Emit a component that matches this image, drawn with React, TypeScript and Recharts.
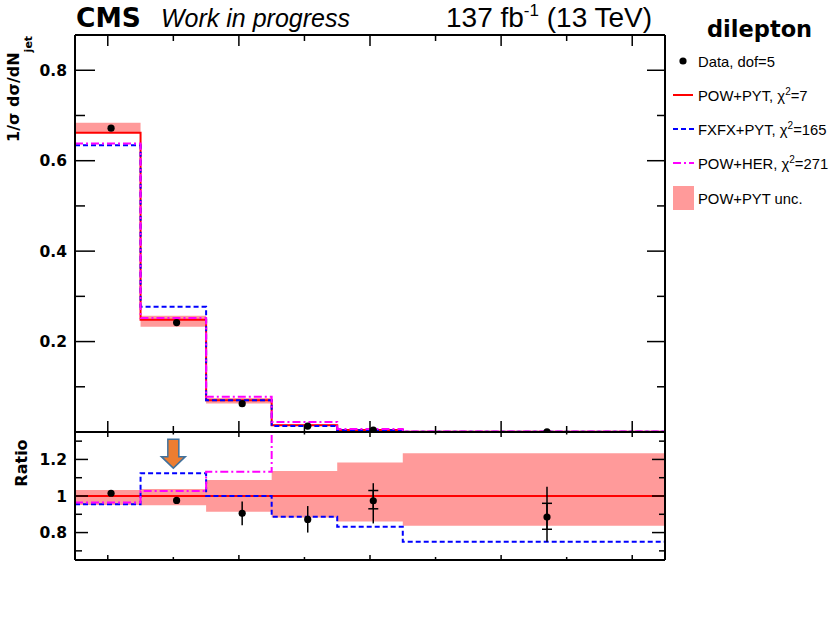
import React from 'react';
import {
  ComposedChart,
  Line,
  Area,
  Scatter,
  XAxis,
  YAxis,
  ErrorBar,
  ReferenceDot,
} from 'recharts';

// Jet multiplicity binning (last bin is 5+ jets)
const binEdges = [-0.5, 0.5, 1.5, 2.5, 3.5, 4.5, 8.5];
const nJetTicks = [0, 1, 2, 3, 4, 5, 6, 7, 8];
const xsecTicks = [0.1, 0.2, 0.3, 0.4, 0.5, 0.6, 0.7, 0.8];
const ratioTicks = [0.7, 0.8, 0.9, 1.0, 1.1, 1.2, 1.3];

// Normalised differential cross section per bin
const powPyt = [0.662, 0.248, 0.07, 0.015, 0.0045, 0.0006];
const powPytUncLo = [0.662, 0.233, 0.063, 0.013, 0.0038, 0.0005];
const powPytUncHi = [0.684, 0.257, 0.075, 0.017, 0.0053, 0.0007];
const fxfxPyt = [0.634, 0.277, 0.07, 0.0133, 0.0037, 0.00045];
const powHer = [0.638, 0.252, 0.078, 0.022, 0.0065, 0.0009];

// Measured points
const dataX = [0.05, 1.05, 2.05, 3.05, 4.05, 6.7];
const dataY = [0.672, 0.242, 0.0627, 0.0131, 0.0044, 0.00053];

// Ratios to POW+PYT
const ratioPowPyt = [1, 1, 1, 1, 1, 1];
const ratioUncLo = [0.951, 0.95, 0.914, 0.882, 0.86, 0.837];
const ratioUncHi = [1.033, 1.038, 1.088, 1.137, 1.183, 1.234];
const ratioFxfx = [0.955, 1.124, 1.0, 0.887, 0.832, 0.75];
const ratioPowHer = [0.965, 1.027, 1.133, 1.47, 1.44, 1.5];
const ratioData = [1.015, 0.976, 0.905, 0.872, 0.974, 0.885];
const ratioTotLo = [1.005, 0.966, 0.84, 0.8, 0.85, 0.75];
const ratioTotHi = [1.025, 0.986, 0.97, 0.945, 1.07, 1.05];
const ratioStatLo: (number | null)[] = [null, null, null, null, 0.93, 0.818];
const ratioStatHi: (number | null)[] = [null, null, null, null, 1.03, 0.96];

const legendItems = [
  { kind: 'dot', label: 'Data, dof=5', chi2: '' },
  { kind: 'red', label: 'POW+PYT, χ', chi2: '7' },
  { kind: 'blue', label: 'FXFX+PYT, χ', chi2: '165' },
  { kind: 'magenta', label: 'POW+HER, χ', chi2: '271' },
  { kind: 'band', label: 'POW+PYT unc.', chi2: '' },
];

const BOLD = '"DejaVu Sans", sans-serif';
const REG = '"Liberation Sans", Arial, sans-serif';
const RED = '#ff0000';
const BLUE = '#0000ff';
const MAGENTA = '#ff00ff';
const BAND = '#ff9a9a';
const BLUE_DASH = '5 3';
const MAGENTA_DASH = '8 3 2 3';

// Step-histogram rows: one row per bin edge, last edge repeats the last bin
function histRows(
  series: Record<string, number[]>,
  lo: number[],
  hi: number[]
) {
  return binEdges.map((x, i) => {
    const b = Math.min(i, binEdges.length - 2);
    const row: Record<string, any> = { x, band: [lo[b], hi[b]] };
    Object.keys(series).forEach((k) => {
      row[k] = series[k][b];
    });
    return row;
  });
}

const mainRows = histRows(
  { powPyt, fxfxPyt, powHer },
  powPytUncLo,
  powPytUncHi
);
const ratioRows = histRows(
  { powPyt: ratioPowPyt, fxfxPyt: ratioFxfx, powHer: ratioPowHer },
  ratioUncLo,
  ratioUncHi
);

const mainPoints = dataX.map((x, i) => ({ x, y: dataY[i] }));
const ratioPoints = dataX.map((x, i) => {
  const y = ratioData[i];
  const sLo = ratioStatLo[i];
  const sHi = ratioStatHi[i];
  return {
    x,
    y,
    tot: [y - ratioTotLo[i], ratioTotHi[i] - y],
    stat: sLo == null || sHi == null ? null : [y - sLo, sHi - y],
  };
});

const isMajor = (v: number, step: number) =>
  Math.abs(Math.round(v / step) * step - v) < 1e-6;

type Side = 'bottom' | 'top' | 'left' | 'right';

// ROOT-style inward ticks; optional labels on major ticks
function inwardTick(
  side: Side,
  majorLen: number,
  minorLen: number,
  majorStep: number,
  withLabel = false
) {
  return (props: any) => {
    const { x, y, payload } = props;
    const v = payload.value as number;
    const major = isMajor(v, majorStep);
    const len = major ? majorLen : minorLen;
    let x2 = x;
    let y2 = y;
    if (side === 'bottom') y2 = y - len;
    if (side === 'top') y2 = y + len;
    if (side === 'left') x2 = x + len;
    if (side === 'right') x2 = x - len;
    const label = withLabel && major ? String(Math.round(v * 10) / 10) : null;
    return (
      <g>
        <line x1={x} y1={y} x2={x2} y2={y2} stroke="#000" strokeWidth={1.5} />
        {label !== null && (
          <text
            x={x - 8}
            y={y + 5.5}
            textAnchor="end"
            fontFamily={BOLD}
            fontWeight="bold"
            fontSize={15.5}
            fill="#000"
          >
            {label}
          </text>
        )}
      </g>
    );
  };
}

const axisLine = { stroke: '#000', strokeWidth: 2 };

function DownArrow(props: any) {
  const { cx, cy } = props;
  const top = cy - 2;
  const neck = cy + 15.5;
  const tip = cy + 27;
  const pts = [
    [cx - 5.5, top],
    [cx + 5.5, top],
    [cx + 5.5, neck],
    [cx + 12, neck],
    [cx, tip],
    [cx - 12, neck],
    [cx - 5.5, neck],
  ]
    .map((p) => p.join(','))
    .join(' ');
  return <polygon points={pts} fill="#ed7d31" stroke="#41719c" strokeWidth={1.5} />;
}

function Dot(props: any) {
  const { cx, cy } = props;
  if (cx == null || cy == null) return null;
  return <circle cx={cx} cy={cy} r={3.6} fill="#000" />;
}

function Legend() {
  const rowY = [61, 95, 129, 163, 198];
  return (
    <g>
      <text x={707} y={37} fontFamily={BOLD} fontWeight="bold" fontSize={22.5}>
        dilepton
      </text>
      {legendItems.map((it, i) => {
        const cy = rowY[i];
        let sym: React.ReactNode = null;
        if (it.kind === 'dot') sym = <circle cx={683} cy={cy} r={3.6} fill="#000" />;
        if (it.kind === 'red')
          sym = <line x1={673} x2={693} y1={cy} y2={cy} stroke={RED} strokeWidth={2} />;
        if (it.kind === 'blue')
          sym = (
            <line x1={673} x2={694} y1={cy} y2={cy} stroke={BLUE} strokeWidth={2} strokeDasharray={BLUE_DASH} />
          );
        if (it.kind === 'magenta')
          sym = (
            <line x1={673} x2={694} y1={cy} y2={cy} stroke={MAGENTA} strokeWidth={2} strokeDasharray={MAGENTA_DASH} />
          );
        if (it.kind === 'band')
          sym = <rect x={673} y={cy - 12} width={21} height={24} fill={BAND} />;
        return (
          <g key={i}>
            {sym}
            <text x={698} y={cy + 5.5} fontFamily={REG} fontSize={14.8} fill="#000">
              {it.label}
              {it.chi2 !== '' && (
                <>
                  <tspan fontSize={10} dy={-6}>
                    2
                  </tspan>
                  <tspan dy={6}>={it.chi2}</tspan>
                </>
              )}
            </text>
          </g>
        );
      })}
    </g>
  );
}

export default function App() {
  return (
    <div style={{ position: 'absolute', left: 0, top: 0, width: 830, height: 627, background: '#fff' }}>
      {/* upper panel: normalised cross section */}
      <div style={{ position: 'absolute', left: 0, top: 0 }}>
        <ComposedChart
          width={830}
          height={440}
          data={mainRows}
          margin={{ top: 34, right: 155, bottom: 7, left: 35 }}
        >
          <XAxis
            xAxisId={0}
            dataKey="x"
            type="number"
            domain={[-0.5, 8.5]}
            allowDataOverflow
            ticks={nJetTicks}
            interval={0}
            height={1}
            tickSize={0}
            tickMargin={0}
            tickLine={false}
            axisLine={axisLine}
            tick={inwardTick('bottom', 11, 6, 2)}
          />
          <XAxis
            xAxisId="top"
            orientation="top"
            dataKey="x"
            type="number"
            domain={[-0.5, 8.5]}
            allowDataOverflow
            ticks={nJetTicks}
            interval={0}
            height={1}
            tickSize={0}
            tickMargin={0}
            tickLine={false}
            axisLine={axisLine}
            tick={inwardTick('top', 11, 6, 2)}
          />
          <YAxis
            yAxisId={0}
            type="number"
            domain={[0, 0.878]}
            allowDataOverflow
            ticks={xsecTicks}
            interval={0}
            width={40}
            tickSize={0}
            tickMargin={0}
            tickLine={false}
            axisLine={axisLine}
            tick={inwardTick('left', 20, 10, 0.2, true)}
          />
          <YAxis
            yAxisId="right"
            orientation="right"
            type="number"
            domain={[0, 0.878]}
            allowDataOverflow
            ticks={xsecTicks}
            interval={0}
            width={10}
            tickSize={0}
            tickMargin={0}
            tickLine={false}
            axisLine={axisLine}
            tick={inwardTick('right', 18, 8, 0.2)}
          />
          <Area
            dataKey="band"
            type="stepAfter"
            stroke="none"
            fill={BAND}
            fillOpacity={1}
            isAnimationActive={false}
          />
          <Line dataKey="powPyt" type="stepAfter" stroke={RED} strokeWidth={2} dot={false} isAnimationActive={false} />
          <Line
            dataKey="fxfxPyt"
            type="stepAfter"
            stroke={BLUE}
            strokeWidth={2}
            strokeDasharray={BLUE_DASH}
            dot={false}
            isAnimationActive={false}
          />
          <Line
            dataKey="powHer"
            type="stepAfter"
            stroke={MAGENTA}
            strokeWidth={2}
            strokeDasharray={MAGENTA_DASH}
            dot={false}
            isAnimationActive={false}
          />
          <Scatter data={mainPoints} dataKey="y" shape={<Dot />} isAnimationActive={false} />
        </ComposedChart>
      </div>

      {/* lower panel: ratio to POW+PYT */}
      <div style={{ position: 'absolute', left: 0, top: 420 }}>
        <ComposedChart
          width={830}
          height={160}
          data={ratioRows}
          margin={{ top: 11, right: 155, bottom: 19, left: 35 }}
        >
          <XAxis
            xAxisId={0}
            dataKey="x"
            type="number"
            domain={[-0.5, 8.5]}
            allowDataOverflow
            ticks={nJetTicks}
            interval={0}
            height={1}
            tickSize={0}
            tickMargin={0}
            tickLine={false}
            axisLine={axisLine}
            tick={inwardTick('bottom', 5, 3, 2)}
          />
          <XAxis
            xAxisId="top"
            orientation="top"
            dataKey="x"
            type="number"
            domain={[-0.5, 8.5]}
            allowDataOverflow
            ticks={nJetTicks}
            interval={0}
            height={1}
            tickSize={0}
            tickMargin={0}
            tickLine={false}
            axisLine={axisLine}
            tick={inwardTick('top', 5, 2.5, 2)}
          />
          <YAxis
            yAxisId={0}
            type="number"
            domain={[0.65, 1.35]}
            allowDataOverflow
            ticks={ratioTicks}
            interval={0}
            width={40}
            tickSize={0}
            tickMargin={0}
            tickLine={false}
            axisLine={axisLine}
            tick={inwardTick('left', 13, 7, 0.2, true)}
          />
          <YAxis
            yAxisId="right"
            orientation="right"
            type="number"
            domain={[0.65, 1.35]}
            allowDataOverflow
            ticks={ratioTicks}
            interval={0}
            width={10}
            tickSize={0}
            tickMargin={0}
            tickLine={false}
            axisLine={axisLine}
            tick={inwardTick('right', 13, 6, 0.2)}
          />
          <Area
            dataKey="band"
            type="stepAfter"
            stroke="none"
            fill={BAND}
            fillOpacity={1}
            isAnimationActive={false}
          />
          <Line dataKey="powPyt" type="stepAfter" stroke={RED} strokeWidth={2} dot={false} isAnimationActive={false} />
          <Line
            dataKey="fxfxPyt"
            type="stepAfter"
            stroke={BLUE}
            strokeWidth={2}
            strokeDasharray={BLUE_DASH}
            dot={false}
            isAnimationActive={false}
          />
          <Line
            dataKey="powHer"
            type="stepAfter"
            stroke={MAGENTA}
            strokeWidth={2}
            strokeDasharray={MAGENTA_DASH}
            dot={false}
            isAnimationActive={false}
          />
          <Scatter data={ratioPoints} dataKey="y" shape={<Dot />} isAnimationActive={false}>
            <ErrorBar dataKey="tot" direction="y" width={0} stroke="#000" strokeWidth={1.5} />
            <ErrorBar dataKey="stat" direction="y" width={5} stroke="#000" strokeWidth={1.5} />
          </Scatter>
          <ReferenceDot x={1} y={1.3} r={0} shape={<DownArrow />} ifOverflow="visible" />
        </ComposedChart>
      </div>

      {/* titles, axis titles and legend */}
      <svg
        width={830}
        height={627}
        style={{ position: 'absolute', left: 0, top: 0, pointerEvents: 'none' }}
      >
        <text x={76} y={27} fontFamily={BOLD} fontWeight="bold" fontSize={26.5} fill="#000">
          CMS
        </text>
        <text x={161} y={27} fontFamily={REG} fontStyle="italic" fontSize={25} fill="#000">
          Work in progress
        </text>
        <text x={446} y={27} fontFamily={REG} fontSize={28} fill="#000">
          137 fb
          <tspan fontSize={17} dy={-11}>
            -1
          </tspan>
          <tspan dy={11}> (13 TeV)</tspan>
        </text>
        <text
          transform="translate(19,142) rotate(-90)"
          fontFamily={BOLD}
          fontWeight="bold"
          fontSize={16}
          fill="#000"
        >
          1/σ dσ/dN
          <tspan fontSize={11} dy={13}>
            jet
          </tspan>
        </text>
        <text
          transform="translate(27,463) rotate(-90)"
          textAnchor="middle"
          fontFamily={BOLD}
          fontWeight="bold"
          fontSize={16}
          fill="#000"
        >
          Ratio
        </text>
        <Legend />
      </svg>
    </div>
  );
}
